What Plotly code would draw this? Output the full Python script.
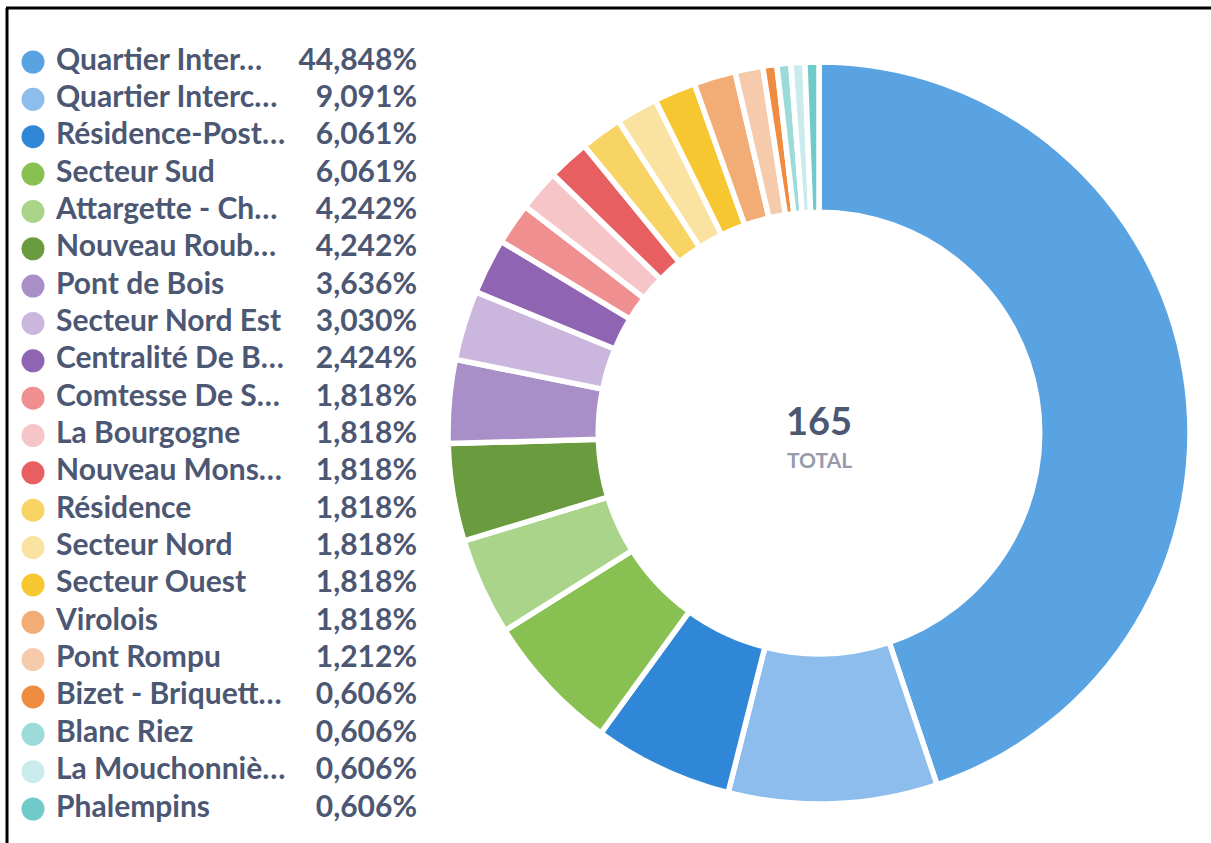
import plotly.graph_objects as go

labels = ["Quartier Inter…", "Quartier Interc…", "Résidence-Post…", "Secteur Sud",
          "Attargette - Ch…", "Nouveau Roub…", "Pont de Bois", "Secteur Nord Est",
          "Centralité De B…", "Comtesse De S…", "La Bourgogne", "Nouveau Mons…",
          "Résidence", "Secteur Nord", "Secteur Ouest", "Virolois", "Pont Rompu",
          "Bizet - Briquett…", "Blanc Riez", "La Mouchonniè…", "Phalempins"]
counts = [74, 15, 10, 10, 7, 7, 6, 5, 4, 3, 3, 3, 3, 3, 3, 3, 2, 1, 1, 1, 1]
colors = ["#5aa3e3", "#8cbdec", "#3187d7", "#89c052", "#a9d48a", "#6b9b3f",
          "#a98fc8", "#cbb7de", "#8f64b3", "#f08f8f", "#f6c5c7", "#e85f61",
          "#f8d465", "#fae3a1", "#f7c731", "#f2ad76", "#f6cbab", "#ef8c40",
          "#9ddada", "#c9ebeb", "#70caca"]

total = sum(counts)
pcts = [f"{c / total * 100:.3f}".replace(".", ",") + "%" for c in counts]

W, H = 1211, 843
TXT = "#4c5773"
FONT = "Lato, 'Open Sans', sans-serif"

cx, cy, r = 819, 433, 371

fig = go.Figure()
fig.add_trace(go.Pie(
    labels=labels, values=counts, sort=False, direction="clockwise", rotation=0,
    hole=0.595, marker=dict(colors=colors, line=dict(color="white", width=5.5)),
    textinfo="none", showlegend=False,
    domain=dict(x=[(cx - r) / W, (cx + r) / W], y=[(H - cy - r) / H, (H - cy + r) / H]),
))

row0, step = 62, 37.35
ys = [row0 + step * i for i in range(len(labels))]

fig.add_trace(go.Scatter(
    x=[33] * len(labels), y=ys, mode="markers",
    marker=dict(size=23, color=colors, line=dict(width=0)),
    showlegend=False, hoverinfo="skip", xaxis="x", yaxis="y"))
fig.add_trace(go.Scatter(
    x=[56] * len(labels), y=ys, mode="text", text=labels, textposition="middle right",
    textfont=dict(family=FONT, size=30, color=TXT, weight="bold"),
    showlegend=False, hoverinfo="skip"))
fig.add_trace(go.Scatter(
    x=[417] * len(labels), y=ys, mode="text", text=pcts, textposition="middle left",
    textfont=dict(family=FONT, size=30, color=TXT, weight="bold"),
    showlegend=False, hoverinfo="skip"))

fig.update_layout(
    width=W, height=H, margin=dict(l=0, r=0, t=0, b=0),
    paper_bgcolor="white", plot_bgcolor="rgba(0,0,0,0)",
    xaxis=dict(range=[0, W], visible=False, domain=[0, 1], fixedrange=True),
    yaxis=dict(range=[H, 0], visible=False, domain=[0, 1], fixedrange=True),
    annotations=[
        dict(text="<b>165</b>", x=cx / W, y=(H - 420) / H, xref="paper", yref="paper",
             showarrow=False, font=dict(family=FONT, size=38, color=TXT),
             xanchor="center", yanchor="middle"),
        dict(text="<b>TOTAL</b>", x=cx / W, y=(H - 459) / H, xref="paper", yref="paper",
             showarrow=False, font=dict(family=FONT, size=21, color="#959bab"),
             xanchor="center", yanchor="middle"),
    ],
    shapes=[
        dict(type="line", xref="paper", yref="paper", x0=6 / W, x1=1, y0=(H - 8) / H, y1=(H - 8) / H,
             line=dict(color="black", width=3)),
        dict(type="line", xref="paper", yref="paper", x0=7 / W, x1=7 / W, y0=0, y1=(H - 8) / H,
             line=dict(color="black", width=3)),
    ],
)

fig.write_html("out.html", config={"displayModeBar": False},
               post_script="document.body.style.margin='0';document.body.style.overflow='hidden';")
